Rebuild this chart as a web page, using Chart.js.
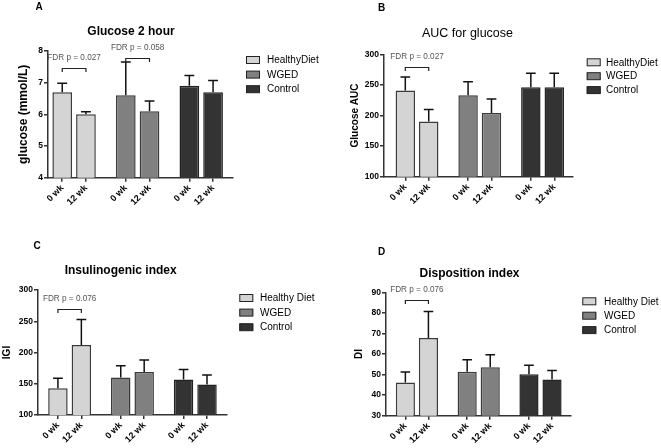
<!DOCTYPE html>
<html>
<head>
<meta charset="utf-8">
<script src="https://cdn.jsdelivr.net/npm/chart.js@4.4.0/dist/chart.umd.min.js"></script>
<style>
  html, body { margin: 0; padding: 0; background: #fff; }
  #wrap { position: relative; width: 661px; height: 448px; }
  canvas { position: absolute; }
</style>
</head>
<body>
<div id="wrap">
  <canvas id="panelA" width="330" height="224" style="left:0;top:0"></canvas>
  <canvas id="panelB" width="331" height="224" style="left:330px;top:0"></canvas>
  <canvas id="panelC" width="330" height="224" style="left:0;top:224px"></canvas>
  <canvas id="panelD" width="331" height="224" style="left:330px;top:224px"></canvas>
</div>
<script>
// ---- data (mean, SEM) ----
const weekLabels = ['0 wk', '12 wk'];
const groupNames = ['HealthyDiet', 'WGED', 'Control'];
const groupNamesSpaced = ['Healthy Diet', 'WGED', 'Control'];

const glucose2hMean = [6.7, 6.0, 6.6, 6.1, 6.9, 6.7];
const glucose2hSem = [0.28, 0.08, 1.05, 0.32, 0.33, 0.37];
const glucose2hTicks = [4, 5, 6, 7, 8];
const glucose2hNotes = [[0, 1, 'FDR p = 0.027'], [2, 3, 'FDR p = 0.058']];

const glucoseAucMean = [241, 190, 233, 204, 246, 246];
const glucoseAucSem = [22, 20, 22, 23, 23, 23];
const glucoseAucTicks = [100, 150, 200, 250, 300];
const glucoseAucNotes = [[0, 1, 'FDR p = 0.027']];

const igiMean = [143, 212, 160, 169, 157, 149];
const igiSem = [16, 41, 19, 19, 16, 15];
const igiTicks = [100, 150, 200, 250, 300];
const igiNotes = [[0, 1, 'FDR p = 0.076']];

const diMean = [46.2, 67.8, 51.4, 53.6, 50.2, 47.6];
const diSem = [5.0, 12.9, 5.8, 6.0, 4.3, 4.4];
const diTicks = [30, 40, 50, 60, 70, 80, 90];
const diNotes = [[0, 1, 'FDR p = 0.076']];

// ---- styling ----
const FONT = '"Liberation Sans", Arial, sans-serif';
const FILLS = ['#d4d4d4', '#808080', '#333333'];
const EDGES = ['#3a3a3a', '#3a3a3a', '#222222'];
const GROUP_STEP = 2.68;
const X_AXIS_H = 32;

Chart.defaults.font.family = FONT;

function barPos(i) {
    return Math.floor(i / 2) * GROUP_STEP + (i % 2);
}

const decor = {
    id: 'decor',
    afterDatasetsDraw(chart, args, o) {
        const ctx = chart.ctx;
        const ys = chart.scales.y;
        const bars = [];
        ctx.save();
        ctx.strokeStyle = '#111';
        ctx.lineWidth = 1.5;
        chart.data.datasets.forEach((ds, di) => {
            chart.getDatasetMeta(di).data.forEach((bar, k) => {
                bars.push(bar);
                const top = ys.getPixelForValue(ds.data[k].y + ds.errors[k]);
                const half = bar.width / 4;
                ctx.beginPath();
                ctx.moveTo(bar.x, bar.y);
                ctx.lineTo(bar.x, top);
                ctx.moveTo(bar.x - half, top);
                ctx.lineTo(bar.x + half, top);
                ctx.stroke();
            });
        });
        // significance brackets
        ctx.lineWidth = 1.2;
        ctx.strokeStyle = '#222';
        ctx.fillStyle = '#555';
        ctx.font = '8.2px ' + FONT;
        ctx.textAlign = 'center';
        ctx.textBaseline = 'middle';
        o.notes.forEach((n, i) => {
            const x1 = bars[n[0]].x, x2 = bars[n[1]].x;
            const yl = Math.round(ys.getPixelForValue(o.levels[i])) + 0.5;
            ctx.beginPath();
            ctx.moveTo(x1, yl + 3.5);
            ctx.lineTo(x1, yl);
            ctx.lineTo(x2, yl);
            ctx.lineTo(x2, yl + 3.5);
            ctx.stroke();
            ctx.fillText(n[2], (x1 + x2) / 2, yl - 11);
        });
        ctx.restore();
    },
    afterDraw(chart, args, o) {
        const ctx = chart.ctx;
        ctx.save();
        ctx.fillStyle = '#000';
        ctx.textBaseline = 'middle';
        ctx.textAlign = 'center';
        ctx.font = 'bold 10px ' + FONT;
        ctx.fillText(o.letter, o.letterAt[0], o.letterAt[1]);
        ctx.font = o.titleFont;
        ctx.fillText(o.title, o.titleAt[0], o.titleAt[1]);
        // legend
        ctx.textAlign = 'left';
        ctx.font = '10px ' + FONT;
        ctx.lineWidth = 1;
        ctx.strokeStyle = '#222';
        chart.data.datasets.forEach((ds, g) => {
            const cy = o.legend.y + g * o.legend.step;
            ctx.fillStyle = ds.backgroundColor;
            ctx.fillRect(o.legend.x, cy - 3.5, 14, 7);
            ctx.strokeRect(o.legend.x + 0.5, cy - 3.5, 13, 7);
            ctx.fillStyle = '#000';
            ctx.fillText(ds.label, o.legend.tx, cy + 0.5);
        });
        ctx.restore();
    }
};

function makePanel(p) {
    const datasets = p.names.map((name, g) => ({
        label: name,
        data: [0, 1].map(k => ({ x: barPos(g * 2 + k), y: p.mean[g * 2 + k] })),
        errors: [0, 1].map(k => p.sem[g * 2 + k]),
        backgroundColor: FILLS[g],
        borderColor: EDGES[g],
        borderWidth: 1.5,
        grouped: false,
        categoryPercentage: 0.83,
        barPercentage: 1
    }));
    const positions = p.mean.map((v, i) => barPos(i));
    const a = p.area;
    const yLeft = p.yTitleX - p.yTitleSize * 0.6;
    const w = document.getElementById(p.id).width;

    return new Chart(document.getElementById(p.id), {
        type: 'bar',
        data: { datasets },
        options: {
            responsive: false,
            animation: false,
            devicePixelRatio: 1,
            layout: {
                padding: {
                    left: yLeft,
                    top: a.top,
                    right: w - a.right,
                    bottom: Math.max(0, 224 - a.bottom - X_AXIS_H)
                }
            },
            plugins: {
                legend: { display: false },
                tooltip: { enabled: false },
                decor: {
                    letter: p.letter, letterAt: p.letterAt,
                    title: p.title, titleAt: p.titleAt, titleFont: p.titleFont,
                    legend: p.legend, notes: p.notes, levels: p.levels
                }
            },
            scales: {
                x: {
                    type: 'linear',
                    min: p.xRange[0],
                    max: p.xRange[1],
                    offset: false,
                    afterBuildTicks: s => { s.ticks = positions.map(v => ({ value: v })); },
                    afterFit: s => { s.height = Math.min(X_AXIS_H, 224 - a.bottom); },
                    ticks: {
                        autoSkip: false,
                        minRotation: 45,
                        maxRotation: 45,
                        padding: 1,
                        color: '#000',
                        font: { size: 9, weight: 'bold' },
                        callback: (v, i) => weekLabels[i % 2]
                    },
                    grid: { drawOnChartArea: false, tickLength: 4, color: '#333', lineWidth: 1.5, offset: false },
                    border: { display: true, color: '#333', width: 1.5 }
                },
                y: {
                    min: p.ticks[0],
                    max: p.ticks[p.ticks.length - 1],
                    afterBuildTicks: s => { s.ticks = p.ticks.map(v => ({ value: v })); },
                    afterFit: s => { s.width = a.left - yLeft; },
                    ticks: { padding: 1, color: '#000', font: { size: 8.5, weight: 'bold' } },
                    grid: { drawOnChartArea: false, tickLength: 4, color: '#333', lineWidth: 1.5 },
                    border: { display: true, color: '#333', width: 1.5 },
                    title: {
                        display: true,
                        text: p.yTitle,
                        padding: 0,
                        color: '#000',
                        font: { size: p.yTitleSize, weight: 'bold' }
                    }
                }
            }
        },
        plugins: [decor]
    });
}

makePanel({
    id: 'panelA', letter: 'A', letterAt: [39, 7],
    title: 'Glucose 2 hour', titleAt: [131, 32], titleFont: 'bold 12px ' + FONT,
    yTitle: 'glucose (mmol/L)', yTitleSize: 12, yTitleX: 23.3,
    area: { left: 48, top: 51, right: 233, bottom: 177.7 }, xRange: [-0.6, 7.2],
    legend: { x: 246, y: 60, step: 14.6, tx: 267 },
    names: groupNames, mean: glucose2hMean, sem: glucose2hSem, ticks: glucose2hTicks,
    notes: glucose2hNotes, levels: [7.47, 7.79]
});

makePanel({
    id: 'panelB', letter: 'B', letterAt: [51.5, 8.3],
    title: 'AUC for glucose', titleAt: [137.5, 33.3], titleFont: '12.5px ' + FONT,
    yTitle: 'Glucose AUC', yTitleSize: 10, yTitleX: 25,
    area: { left: 54, top: 54.3, right: 243, bottom: 176.7 }, xRange: [-0.91, 7.16],
    legend: { x: 256.7, y: 62.3, step: 13.9, tx: 276 },
    names: groupNames, mean: glucoseAucMean, sem: glucoseAucSem, ticks: glucoseAucTicks,
    notes: glucoseAucNotes, levels: [280]
});

makePanel({
    id: 'panelC', letter: 'C', letterAt: [37, 22],
    title: 'Insulinogenic index', titleAt: [120.7, 46.7], titleFont: 'bold 12px ' + FONT,
    yTitle: 'IGI', yTitleSize: 10, yTitleX: 7.5,
    area: { left: 38, top: 66, right: 226.7, bottom: 191 }, xRange: [-0.85, 7.2],
    legend: { x: 239.3, y: 74, step: 14.6, tx: 260 },
    names: groupNamesSpaced, mean: igiMean, sem: igiSem, ticks: igiTicks,
    notes: igiNotes, levels: [269.6]
});

makePanel({
    id: 'panelD', letter: 'D', letterAt: [51.5, 28.5],
    title: 'Disposition index', titleAt: [139.5, 50], titleFont: 'bold 12px ' + FONT,
    yTitle: 'DI', yTitleSize: 10, yTitleX: 29.5,
    area: { left: 56, top: 68.3, right: 240.7, bottom: 191.7 }, xRange: [-0.84, 7.17],
    legend: { x: 252.3, y: 77.3, step: 14.4, tx: 274 },
    names: groupNamesSpaced, mean: diMean, sem: diSem, ticks: diTicks,
    notes: diNotes, levels: [86.3]
});
</script>
</body>
</html>
